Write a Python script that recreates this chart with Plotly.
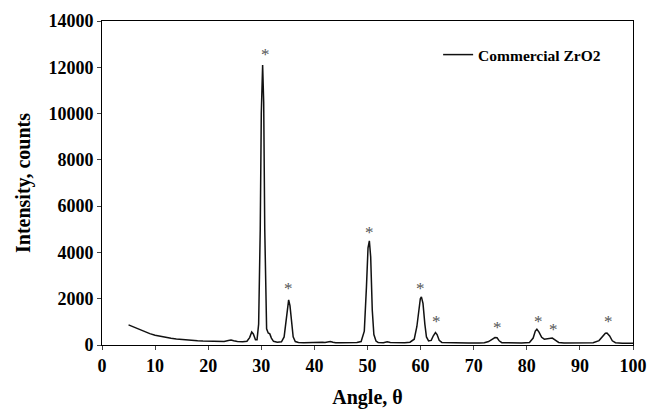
import plotly.graph_objects as go

# Diffraction pattern
ANGLE = [5.0, 5.5, 6, 7, 8, 9, 10, 11, 12, 13, 14, 15, 16, 17, 18, 19, 20, 21, 22, 23,
         23.8, 24.3, 24.8, 25.5, 26.5, 27.3, 27.8, 28.2, 28.5, 28.9, 29.2, 29.5, 29.8,
         30.0, 30.25, 30.45, 30.65, 30.85, 31.0, 31.3, 31.6, 31.9, 32.3, 33, 33.8, 34.3,
         34.6, 34.9, 35.15, 35.4, 35.7, 36.0, 36.4, 37, 38, 39, 40, 41, 41.5, 42, 43,
         43.5, 44, 45, 46, 47, 48, 48.8, 49.4, 49.8, 50.1, 50.35, 50.6, 50.9, 51.2, 51.6,
         52, 53, 53.7, 54.3, 55, 56, 57, 58, 58.8, 59.3, 59.7, 59.95, 60.15, 60.45, 60.8,
         61.1, 61.5, 62.0, 62.4, 62.8, 63.1, 63.5, 64.0, 65, 67, 69, 71, 72, 72.8, 73.5,
         74.0, 74.4, 74.8, 75.3, 77, 79, 80.5, 81.2, 81.6, 81.9, 82.3, 82.8, 83.3, 83.9,
         84.4, 84.8, 85.3, 86, 87, 89, 91, 92.5, 93.6, 94.3, 94.8, 95.1, 95.6, 96.1,
         96.7, 98, 100]
INTENSITY = [870, 820, 760, 660, 570, 490, 420, 370, 330, 290, 260, 235, 215, 195, 180,
             170, 160, 150, 145, 150, 190, 215, 180, 150, 140, 160, 320, 560, 480, 230,
             230, 900, 5000, 10000, 12100, 10500, 5000, 1600, 700, 520, 480, 300, 160,
             120, 140, 350, 1000, 1700, 1950, 1700, 900, 350, 150, 110, 100, 110, 100,
             140, 120, 110, 150, 120, 100, 100, 100, 100, 110, 150, 600, 2500, 4200, 4500,
             3800, 1500, 450, 170, 110, 100, 140, 110, 100, 100, 100, 120, 250, 800, 1600,
             2000, 2080, 1800, 900, 350, 180, 200, 400, 540, 450, 200, 110, 100, 90, 90,
             90, 100, 150, 230, 320, 310, 180, 100, 90, 90, 110, 300, 600, 680, 560, 330,
             250, 280, 310, 300, 220, 110, 90, 90, 90, 100, 190, 380, 510, 520, 390, 180,
             100, 80, 80]

# Asterisk markers above the indexed peaks
STAR_ANGLE = [30.7, 35.2, 50.35, 60.0, 62.9, 74.5, 82.2, 85.0, 95.3]
STAR_INTENSITY = [12672, 2582, 4990, 2552, 1140, 895, 1140, 808, 1140]

X_TICKS = list(range(0, 101, 10))
X_LABELS = [str(v) for v in X_TICKS]
Y_TICKS = list(range(0, 14001, 2000))
Y_LABELS = [str(v) for v in Y_TICKS]

FONT = "Times New Roman, Liberation Serif, serif"

fig = go.Figure()
fig.add_trace(go.Scatter(
    x=ANGLE, y=INTENSITY, mode="lines", name="Commercial ZrO2",
    line=dict(color="#111111", width=1.5),
))

for sx, sy in zip(STAR_ANGLE, STAR_INTENSITY):
    fig.add_annotation(x=sx, y=sy, text="*", showarrow=False,
                       font=dict(family=FONT, size=17, color="#555555"),
                       xanchor="center", yanchor="middle", yshift=-3)

fig.update_layout(
    width=655, height=409,
    margin=dict(l=102, r=22, t=21, b=64),
    paper_bgcolor="white", plot_bgcolor="white",
    font=dict(family=FONT, color="black"),
    showlegend=True,
    legend=dict(x=0.633, y=0.895, xanchor="left", yanchor="middle",
                bgcolor="rgba(0,0,0,0)",
                font=dict(family=FONT, size=15.5, color="black", weight="bold")),
    xaxis=dict(range=[0, 100], tickvals=X_TICKS, ticktext=X_LABELS,
               ticks="outside", ticklen=4, automargin=False,
               showline=True, linecolor="black", linewidth=1, mirror=True,
               showgrid=False, zeroline=False,
               tickfont=dict(family=FONT, size=18, weight="bold", color="black"),
               title=dict(text="Angle, θ",
                          font=dict(family=FONT, size=20, weight="bold", color="black"),
                          standoff=20)),
    yaxis=dict(range=[0, 14000], tickvals=Y_TICKS, ticktext=Y_LABELS,
               ticks="outside", ticklen=4, automargin=False,
               showline=True, linecolor="black", linewidth=1, mirror=True,
               showgrid=False, zeroline=False,
               tickfont=dict(family=FONT, size=18, weight="bold", color="black"),
               title=dict(text="Intensity, counts",
                          font=dict(family=FONT, size=20, weight="bold", color="black"),
                          standoff=12)),
)

fig.write_html("out.html", config={"displayModeBar": False},
               post_script="document.body.style.margin='0';document.body.style.overflow='hidden';")
